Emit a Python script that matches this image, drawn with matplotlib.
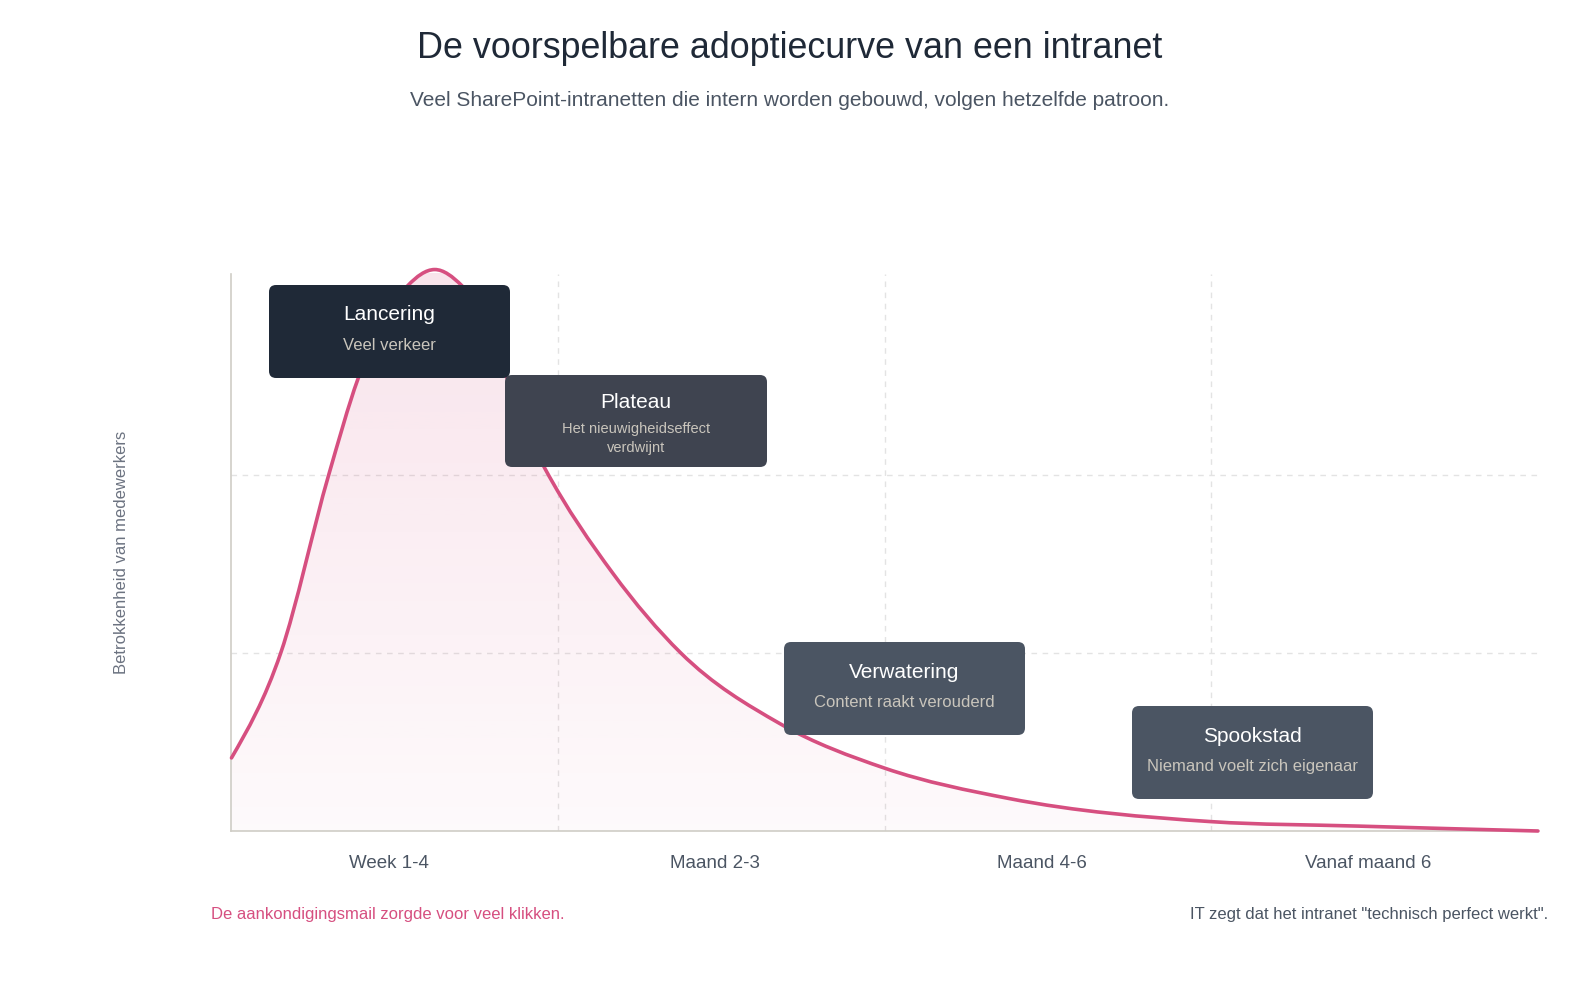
#----------------------------------------------------------------------
# import libraries
#----------------------------------------------------------------------

import numpy as np
import matplotlib.pyplot as plt
import matplotlib.transforms as mtransforms
from matplotlib.path import Path
from matplotlib.patches import PathPatch, FancyBboxPatch

plt.rcParams['font.family'] = ['Liberation Sans', 'DejaVu Sans']

#----------------------------------------------------------------------
# data
#----------------------------------------------------------------------

categories = ['Week 1-4', 'Maand 2-3', 'Maand 4-6', 'Vanaf maand 6']

# engagement curve (x in category units, y = engagement score)
curve_x = [0, 0.151, 0.298, 0.387, 0.54, 0.622, 0.705, 0.96,
           1.168, 1.375, 1.679, 2.0, 2.38, 3.0, 3.45, 4.0]
curve_y = [16.4, 40, 80, 101.4, 122.4, 126, 122.4, 81.3,
           57.8, 40, 24.1, 14.1, 7.3, 2.1, 1.1, 0]

phase_titles = ['Lancering', 'Plateau', 'Verwatering', 'Spookstad']
phase_texts = ['Veel verkeer', 'Het nieuwigheidseffect\nverdwijnt',
               'Content raakt verouderd', 'Niemand voelt zich eigenaar']

note_left = 'De aankondigingsmail zorgde voor veel klikken.'
note_right = 'IT zegt dat het intranet "technisch perfect werkt".'

#----------------------------------------------------------------------
# helpers
#----------------------------------------------------------------------

def smooth_path(xs, ys):
    # cubic hermite curve through the points, drawn as bezier segments
    xs = np.asarray(xs, float)
    ys = np.asarray(ys, float)
    n = len(xs)
    h = np.diff(xs)
    d = np.diff(ys) / h
    m = np.zeros(n)
    for i in range(1, n - 1):
        # three point derivative for uneven spacing
        m[i] = (h[i] * d[i - 1] + h[i - 1] * d[i]) / (h[i - 1] + h[i])
    # natural-ish ends
    m[0] = (3 * d[0] - m[1]) / 2
    m[-1] = (3 * d[-1] - m[-2]) / 2
    verts = [(xs[0], ys[0])]
    codes = [Path.MOVETO]
    for i in range(n - 1):
        dx = h[i]
        verts += [(xs[i] + dx / 3, ys[i] + m[i] * dx / 3),
                  (xs[i + 1] - dx / 3, ys[i + 1] - m[i + 1] * dx / 3),
                  (xs[i + 1], ys[i + 1])]
        codes += [Path.CURVE4] * 3
    return verts, codes

#----------------------------------------------------------------------
# figure
#----------------------------------------------------------------------

fig = plt.figure(figsize=(15.79, 10), dpi=100)
ax = fig.add_axes([0.1466, 0.169, 0.8274, 0.557])

line_color = '#d64f80'
verts, codes = smooth_path(curve_x, curve_y)

# gradient fill under the curve
fill_verts = verts + [(curve_x[-1], 0), (curve_x[0], 0), verts[0]]
fill_codes = codes + [Path.LINETO, Path.LINETO, Path.CLOSEPOLY]
fill_patch = PathPatch(Path(fill_verts, fill_codes), facecolor='none', edgecolor='none')
ax.add_patch(fill_patch)

grad = np.zeros((256, 1, 4))
grad[:, 0, 0] = 214 / 255
grad[:, 0, 1] = 79 / 255
grad[:, 0, 2] = 128 / 255
grad[:, 0, 3] = np.linspace(0.03, 0.16, 256)
img = ax.imshow(grad, extent=[0, 4, 0, 128], origin='lower', aspect='auto', zorder=1)
img.set_clip_path(fill_patch)
img.set_clip_box(None)

ax.set_xlim(0, 4)
ax.set_ylim(0, 125)

line = PathPatch(Path(verts, codes), facecolor='none', edgecolor=line_color,
                 lw=2.6, zorder=3, clip_on=False, capstyle='round')
ax.add_patch(line)

# grid
for gy in [40, 80]:
    ax.axhline(gy, color='#e3e3e3', lw=1, ls=(0, (4, 4)), zorder=0)
for gx in [1, 2, 3]:
    ax.axvline(gx, color='#e3e3e3', lw=1, ls=(0, (4, 4)), zorder=0)

for s in ['top', 'right']:
    ax.spines[s].set_visible(False)
for s in ['left', 'bottom']:
    ax.spines[s].set_color('#cfcdc6')
    ax.spines[s].set_linewidth(1.2)

ax.set_xticks([0.5, 1.5, 2.5, 3.5])
ax.set_xticklabels(categories, fontsize=13.5, color='#4b5563')
ax.tick_params(axis='x', length=0, pad=17)
ax.set_yticks([])
shift = mtransforms.ScaledTranslation(-6 / 100, 0, fig.dpi_scale_trans)
for lbl in ax.get_xticklabels():
    lbl.set_transform(lbl.get_transform() + shift)

# titles
fig.text(0.5, 1 - 48 / 1000, 'De voorspelbare adoptiecurve van een intranet',
         ha='center', va='center', fontsize=25.8, color='#1f2937')
fig.text(0.5, 1 - 101 / 1000,
         'Veel SharePoint-intranetten die intern worden gebouwd, volgen hetzelfde patroon.',
         ha='center', va='center', fontsize=15, color='#4b5563')

fig.text(121 / 1579, 1 - 552 / 1000, 'Betrokkenheid van medewerkers', rotation=90,
         ha='center', va='center', fontsize=12, color='#6b7280')

# phase boxes (pixel positions from top-left, converted to inches)
box_pos = [(269, 285, 241, 93), (505, 375, 262, 92), (784, 642, 241, 93), (1132, 706, 241, 93)]
box_colors = ['#1f2937', '#3f4450', '#4b5563', '#4b5563']
sub_sizes = [12, 10.5, 12, 12]

for (bx, by, bw, bh), col, t, s, ss in zip(box_pos, box_colors, phase_titles, phase_texts, sub_sizes):
    box = FancyBboxPatch((bx / 100, (1000 - by - bh) / 100), bw / 100, bh / 100,
                         boxstyle='round,pad=0,rounding_size=0.07',
                         facecolor=col, edgecolor='none', transform=fig.dpi_scale_trans,
                         zorder=5)
    fig.add_artist(box)
    cx = (bx + bw / 2) / 100
    if '\n' in s:
        fig.text(cx, (1000 - by - 27.5) / 100, t, transform=fig.dpi_scale_trans,
                 ha='center', va='center', fontsize=15, color='white', zorder=6)
        fig.text(cx, (1000 - by - 63.5) / 100, s, transform=fig.dpi_scale_trans,
                 ha='center', va='center', fontsize=ss, color='#c9c5bc',
                 linespacing=1.45, zorder=6)
    else:
        fig.text(cx, (1000 - by - 30) / 100, t, transform=fig.dpi_scale_trans,
                 ha='center', va='center', fontsize=15, color='white', zorder=6)
        fig.text(cx, (1000 - by - 60.5) / 100, s, transform=fig.dpi_scale_trans,
                 ha='center', va='center', fontsize=ss, color='#c9c5bc', zorder=6)

# footnotes
fig.text(211 / 1579, 1 - 915 / 1000, note_left, ha='left', va='center',
         fontsize=12, color='#d64f80')
fig.text(1548 / 1579, 1 - 915 / 1000, note_right, ha='right', va='center',
         fontsize=12, color='#4b5563')

plt.savefig('out.png', dpi=100, facecolor='white')
